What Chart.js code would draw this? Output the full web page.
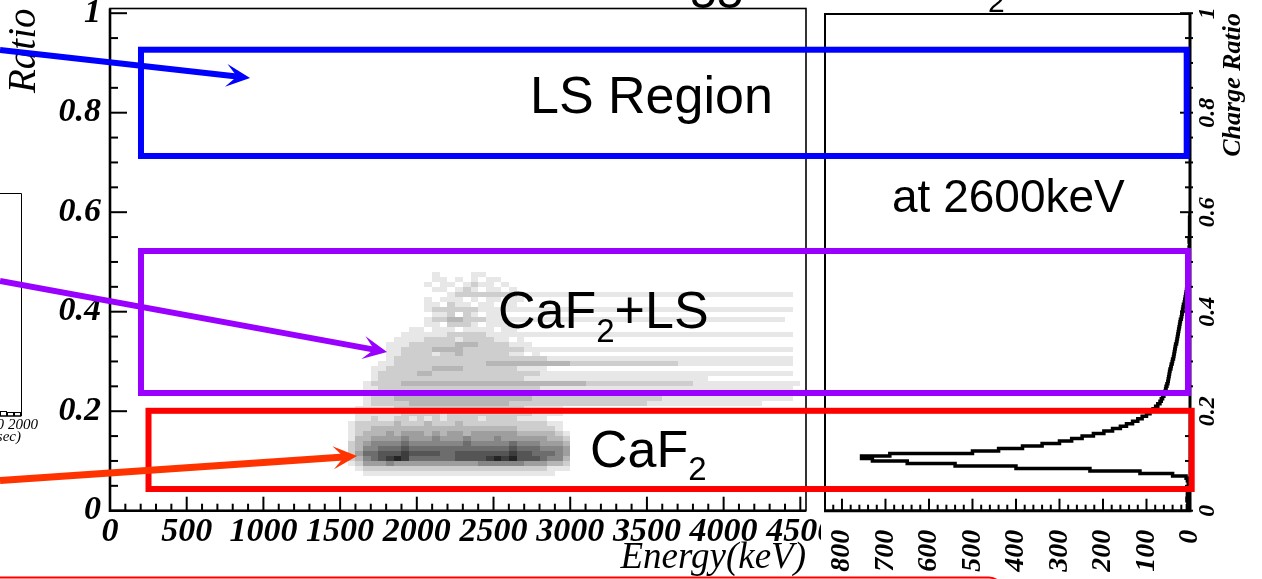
<!DOCTYPE html>
<html>
<head>
<meta charset="utf-8">
<script src="https://cdn.jsdelivr.net/npm/chart.js@4.4.0/dist/chart.umd.min.js"></script>
<style>
  html, body { margin: 0; padding: 0; background: #fff; }
  #wrap { position: relative; width: 1262px; height: 579px; overflow: hidden; background: #fff; }
  #wrap canvas { position: absolute; left: 0; top: 0; }
</style>
</head>
<body>
<div id="wrap">
  <canvas id="main" width="1262" height="579"></canvas>
  <canvas id="side" width="1262" height="579"></canvas>
</div>
<script>
// ---------------- data ----------------
const energyTicks = [0, 500, 1000, 1500, 2000, 2500, 3000, 3500, 4000, 4500];
const ratioTicks = [0, 0.2, 0.4, 0.6, 0.8, 1];
const countTicks = [0, 100, 200, 300, 400, 500, 600, 700, 800];

// Event density, energy vs charge ratio.
// One string per 0.01 ratio bin (lower edge in densityRatioRows), one character
// per 50 keV energy bin starting at 1500 keV: 0 = empty ... 9 = densest.
const densityEnergyStart = 1500;
const densityEnergyStep = 50;
const densityRatioStep = 0.01;
const densityRatioRows = [0.47, 0.46, 0.45, 0.44, 0.43, 0.42, 0.41, 0.40, 0.39, 0.38,
  0.37, 0.36, 0.35, 0.34, 0.33, 0.32, 0.31, 0.30, 0.29, 0.28, 0.27, 0.26, 0.25, 0.24,
  0.23, 0.22, 0.21, 0.20, 0.19, 0.18, 0.17, 0.16, 0.15, 0.14, 0.13, 0.12, 0.11, 0.10,
  0.09, 0.08, 0.07];
const densityRows = [
  "0000000000 0010000110 0000000000 0000000000 0000000000 0000000000",
  "0000000000 0011010101 1000000000 0000000000 0000000000 0000000000",
  "0000000000 0101101211 0100000000 0000000000 0000000000 0000000000",
  "0000000000 0011012101 1010000000 0000000000 0000000000 0000000000",
  "0000000000 0000122222 2221111111 1111111111 1111111111 1111111110",
  "0000000000 0101110101 1011000000 0000000000 0000000000 0000000000",
  "0000000000 0110211011 0110000000 0000000000 0000000000 0000000000",
  "0000000000 0122222211 1111111111 1111111111 1111111111 1111111110",
  "0000000000 0011202101 1000000000 0000000000 0000000000 0000000000",
  "0000000000 0122332221 1111111111 1111111111 1111111111 1111111100",
  "0000000000 0110222101 1100000000 0000000000 0000000000 0000000000",
  "0000000001 1011101111 0110000000 0000000000 0000000000 0000000000",
  "0000000011 1111222221 1111111111 1111111111 1111111111 1111111110",
  "0000000111 1222212222 1101000000 0000000000 0000000000 0000000000",
  "0000001112 2222233322 2211100000 0000000000 0000000000 0000000000",
  "0000001122 2233332222 2222111111 1111111111 1111111111 1111111110",
  "0000001122 2212232222 2211010000 0000000000 0000000000 0000000000",
  "0000001222 2222222222 2222222111 1111111111 1111111111 1111111110",
  "0000011222 2222222223 3333333333 2222222222 2222111111 1111111110",
  "0000112222 2233332222 2221111000 0000000000 0000000000 0000000000",
  "0000122222 3322222222 2222221111 1111111111 1111111111 1111111110",
  "0000122222 2222222222 2222111111 1111111111 1111111100 0000000000",
  "0001222233 3333333333 3333333333 3322222222 2222221111 1111111111",
  "0001122222 2222222222 2222221111 1111111111 1111111111 1111111110",
  "0001122222 2222222222 2222211111 1111111111 1111111111 1111111110",
  "0001222333 3333333333 3333322222 2222222222 2211111111 1111111110",
  "0001222223 3333333333 3322222222 2222222222 1111111111 1111100000",
  "0011111222 2222222222 2222111110 0000000000 0000000000 0000000000",
  "0011111122 2221222222 2222211110 0000000000 0000000000 0000000000",
  "0011211221 2121222212 2221111000 0000000000 0000000000 0000000000",
  "0122222322 2322232222 2222222110 0000000000 0000000000 0000000000",
  "0122333333 3333333333 3332222210 0000000000 0000000000 0000000000",
  "0123334344 4343443444 4443333321 0000000000 0000000000 0000000000",
  "0133444454 4454445444 5444444332 0000000000 0000000000 0000000000",
  "0234555565 5555556555 5565554443 0000000000 0000000000 0000000000",
  "0235566676 6666666666 6676665554 0000000000 0000000000 0000000000",
  "0246677787 7776677777 7787766654 0000000000 0000000000 0000000000",
  "0235678986 6666677778 9897776553 0000000000 0000000000 0000000000",
  "0124445444 4444444455 5555444332 0000000000 0000000000 0000000000",
  "0012222222 2222222222 2222222111 0000000000 0000000000 0000000000",
  "0001111111 1111111111 1111111100 0000000000 0000000000 0000000000"
];

// Charge-ratio distribution at 2600 keV: counts per 0.005 ratio bin from 0
const histRatioStart = 0;
const histRatioStep = 0.005;
const histCounts = [
  4, 6, 3, 5, 7, 4, 6, 3, 2, 2,
  3, 4, 6, 9, 40, 115, 230, 400, 540, 650,
  730, 755, 690, 500, 440, 385, 340, 300, 272, 248,
  222, 198, 178, 160, 146, 132, 120, 110, 100, 92,
  85, 79, 74, 69, 66, 63, 60, 58, 56, 55,
  53, 51, 50, 49, 48, 47, 46, 44, 43, 41,
  40, 38, 37, 36, 35, 34, 33, 31, 30, 29,
  28, 27, 26, 25, 24, 23, 22, 20, 19, 18,
  17, 16, 15, 13, 12, 11, 10, 9, 8, 7,
  6, 5, 5, 4, 4, 3, 3, 3, 2, 3,
  2, 2, 1, 2, 1, 2, 1, 1, 2, 1,
  1, 0, 1, 1, 0, 1, 0, 1, 0, 0
];

// ---------------- styling ----------------
const SERIF = "'Liberation Serif', 'Times New Roman', serif";
const SANS = "'Liberation Sans', Arial, sans-serif";

// plot frames on the page
const mainArea = { left: 110, right: 806, top: 8.5, bottom: 510.7 };
const sideArea = { left: 825, right: 1190, top: 13.2, bottom: 510.7 };

// Selection regions drawn across both panels
const regionBoxes = [
  { color: '#0000ff', energyFrom: 202, countTo: 7.6, ratioFrom: 0.713, ratioTo: 0.9266 },
  { color: '#9900ff', energyFrom: 202, countTo: 4.6, ratioFrom: 0.2366, ratioTo: 0.522 },
  { color: '#ff0000', energyFrom: 251, countTo: -3.9, ratioFrom: 0.0436, ratioTo: 0.2008 }
];
const pointerArrows = [
  { color: '#0000ff', width: 6, from: [-717, 0.926], to: [913, 0.8697] },
  { color: '#9900ff', width: 6, from: [-717, 0.4617], to: [1806, 0.319] },
  { color: '#ff3300', width: 7, from: [-717, 0.0607], to: [1611, 0.1099] }
];

Chart.defaults.color = '#000';

function drawText(ctx, parts, x, y) {
  // parts: [text, fontSize, baselineShift]
  let cx = x;
  parts.forEach(([t, size, dy]) => {
    ctx.font = size + 'px ' + SANS;
    ctx.fillText(t, cx, y + dy);
    cx += ctx.measureText(t).width;
  });
}

function drawArrow(ctx, x0, y0, x1, y1, color, lw) {
  const dx = x1 - x0, dy = y1 - y0, len = Math.hypot(dx, dy);
  const ux = dx / len, uy = dy / len, nx = -uy, ny = ux;
  const hl = 24, hw = 11.5, notch = 0.55 * hl;
  ctx.strokeStyle = color;
  ctx.lineWidth = lw;
  ctx.lineCap = 'butt';
  ctx.beginPath();
  ctx.moveTo(x0, y0);
  ctx.lineTo(x1 - ux * notch, y1 - uy * notch);
  ctx.stroke();
  ctx.fillStyle = color;
  ctx.beginPath();
  ctx.moveTo(x1, y1);
  ctx.lineTo(x1 - ux * hl + nx * hw, y1 - uy * hl + ny * hw);
  ctx.lineTo(x1 - ux * notch, y1 - uy * notch);
  ctx.lineTo(x1 - ux * hl - nx * hw, y1 - uy * hl - ny * hw);
  ctx.closePath();
  ctx.fill();
}

// nudge layout padding until the chart area sits on the wanted frame
function pinChartArea(chart, target) {
  const p = chart.config.options.layout.padding;
  for (let i = 0; i < 5; i++) {
    const a = chart.chartArea;
    const d = {
      top: target.top - a.top, bottom: a.bottom - target.bottom,
      left: target.left - a.left, right: a.right - target.right
    };
    if (Math.max(Math.abs(d.top), Math.abs(d.bottom), Math.abs(d.left), Math.abs(d.right)) < 0.02) break;
    p.top += d.top; p.bottom += d.bottom; p.left += d.left; p.right += d.right;
    chart.update();
  }
}

// ---------------- main panel: energy vs ratio ----------------
const densityPlugin = {
  id: 'density',
  beforeDatasetsDraw(chart) {
    const { ctx, scales: { x, y } } = chart;
    ctx.save();
    densityRows.forEach((row, j) => {
      const cells = row.replace(/\s+/g, '');
      const r0 = densityRatioRows[j];
      const yTop = Math.round(y.getPixelForValue(r0 + densityRatioStep));
      const yBot = Math.round(y.getPixelForValue(r0));
      for (let k = 0; k < cells.length; k++) {
        const d = +cells[k];
        if (!d) continue;
        const e0 = densityEnergyStart + k * densityEnergyStep;
        const xL = Math.round(x.getPixelForValue(e0));
        const xR = Math.round(x.getPixelForValue(e0 + densityEnergyStep));
        const g = Math.round(255 * (1 - d / 10.5));
        ctx.fillStyle = `rgb(${g},${g},${g})`;
        ctx.fillRect(xL, yTop, xR - xL, yBot - yTop);
      }
    });
    ctx.restore();
  }
};

const mainFramePlugin = {
  id: 'mainFrame',
  afterDraw(chart) {
    const { ctx, chartArea: a, scales: { x, y } } = chart;
    ctx.save();
    ctx.strokeStyle = '#000';
    ctx.lineWidth = 2;
    for (let i = 0; i <= 20; i++) {
      const py = y.getPixelForValue(i * 0.05);
      const len = i % 4 === 0 ? 17 : 8;
      ctx.beginPath(); ctx.moveTo(a.left, py); ctx.lineTo(a.left + len, py); ctx.stroke();
    }
    for (let i = 0; i <= 45; i++) {
      const px = x.getPixelForValue(i * 100);
      const len = i % 5 === 0 ? 14 : 7;
      ctx.beginPath(); ctx.moveTo(px, a.bottom); ctx.lineTo(px, a.bottom - len); ctx.stroke();
    }
    ctx.lineWidth = 1.6;
    ctx.strokeRect(a.left, a.top, a.right - a.left, a.bottom - a.top);
    ctx.lineWidth = 2.6;
    ctx.beginPath();
    ctx.moveTo(a.left, a.top); ctx.lineTo(a.left, a.bottom); ctx.lineTo(a.right, a.bottom);
    ctx.stroke();
    ctx.restore();
  }
};

const mainChart = new Chart(document.getElementById('main'), {
  type: 'scatter',
  data: { datasets: [] },
  options: {
    responsive: false,
    animation: false,
    events: [],
    layout: { autoPadding: false, padding: { left: 0, top: 8.5, right: 456, bottom: 0 } },
    plugins: { legend: { display: false }, tooltip: { enabled: false } },
    scales: {
      x: {
        type: 'linear', min: 0, max: 4537,
        grid: { display: false, drawTicks: false }, border: { display: false },
        afterBuildTicks: s => { s.ticks = energyTicks.map(v => ({ value: v })); },
        afterFit: s => { s.height = 68.3; },
        ticks: {
          autoSkip: false, maxRotation: 0, minRotation: 0, padding: 1, color: '#000',
          callback: v => String(v),
          font: { family: SERIF, size: 34, style: 'italic', weight: 'bold', lineHeight: 1.2 }
        },
        title: {
          display: true, text: 'Energy(keV)', align: 'end', color: '#000',
          font: { family: SERIF, size: 37, style: 'italic', weight: 'normal', lineHeight: 1 },
          padding: { top: 0, bottom: 2 }
        }
      },
      y: {
        type: 'linear', min: 0, max: 1.00945,
        // tick marks are drawn by mainFramePlugin; the hidden tick length only spaces the labels
        grid: { display: false, drawTicks: true, tickLength: 9 }, border: { display: false },
        afterBuildTicks: s => { s.ticks = ratioTicks.map(v => ({ value: v })); },
        afterFit: s => { s.width = 110; },
        ticks: {
          autoSkip: false, padding: 0, color: '#000',
          callback: v => String(v),
          font: { family: SERIF, size: 34, style: 'italic', weight: 'bold', lineHeight: 0.3 }
        },
        title: {
          display: true, text: 'Ratio', align: 'end', color: '#000',
          font: { family: SERIF, size: 39, style: 'italic', weight: 'normal', lineHeight: 1 },
          padding: { top: 5, bottom: 0 }
        }
      }
    }
  },
  plugins: [densityPlugin, mainFramePlugin]
});
pinChartArea(mainChart, mainArea);

// ---------------- side panel: ratio distribution ----------------
const histPoints = histCounts.map((c, i) => ({ x: c, y: histRatioStart + i * histRatioStep }));
histPoints.push({ x: histCounts[histCounts.length - 1], y: histRatioStart + histCounts.length * histRatioStep });

const sideCoverPlugin = {
  id: 'sideCover',
  beforeDraw(chart) {
    const { ctx } = chart;
    ctx.save();
    ctx.fillStyle = '#fff';
    ctx.fillRect(821, 0, 441, 579);
    ctx.restore();
  }
};

const sideFramePlugin = {
  id: 'sideFrame',
  afterDraw(chart) {
    const { ctx, chartArea: a, scales: { x, y } } = chart;
    ctx.save();
    ctx.strokeStyle = '#000';
    ctx.fillStyle = '#000';
    ctx.lineWidth = 2;
    for (let i = 0; i <= 41; i++) {
      const px = x.getPixelForValue(i * 20);
      if (px < a.left) break;
      const len = i % 5 === 0 ? 12 : 6;
      ctx.beginPath(); ctx.moveTo(px, a.bottom); ctx.lineTo(px, a.bottom - len); ctx.stroke();
    }
    for (let i = 0; i <= 20; i++) {
      const py = y.getPixelForValue(i * 0.05);
      const len = i % 4 === 0 ? 10 : 5;
      ctx.beginPath(); ctx.moveTo(a.right + 3, py); ctx.lineTo(a.right - len, py); ctx.stroke();
    }
    ctx.lineWidth = 2;
    ctx.beginPath();
    ctx.moveTo(a.left, a.bottom); ctx.lineTo(a.left, a.top + 0.8); ctx.lineTo(a.right, a.top + 0.8);
    ctx.stroke();
    ctx.lineWidth = 3;
    ctx.beginPath();
    ctx.moveTo(a.right, a.top); ctx.lineTo(a.right, a.bottom); ctx.lineTo(a.left - 1, a.bottom);
    ctx.stroke();
    // ratio labels on the right axis (rotated)
    ctx.font = 'italic bold 24px ' + SERIF;
    ctx.textAlign = 'center';
    ctx.textBaseline = 'middle';
    ratioTicks.forEach(v => {
      ctx.save();
      ctx.translate(a.right + 18, y.getPixelForValue(v));
      ctx.rotate(-Math.PI / 2);
      ctx.fillText(String(v), 0, 0);
      ctx.restore();
    });
    ctx.save();
    ctx.font = 'italic bold 26px ' + SERIF;
    ctx.textAlign = 'right';
    ctx.textBaseline = 'alphabetic';
    ctx.translate(1240, 13);
    ctx.rotate(-Math.PI / 2);
    ctx.fillText('Charge Ratio', 0, 0);
    ctx.restore();
    ctx.restore();
  }
};

const overlayPlugin = {
  id: 'overlay',
  afterDraw(chart) {
    const { ctx } = chart;
    const ex = mainChart.scales.x, ry = mainChart.scales.y, cx = chart.scales.x;
    ctx.save();

    // cut-off headings above the panels
    ctx.fillStyle = '#000';
    ctx.textBaseline = 'alphabetic';
    ctx.textAlign = 'left';
    ctx.font = '48px ' + SANS;
    ctx.fillText('55', 690, 8);
    ctx.font = '30px ' + SANS;
    ctx.fillText('2', 988, 12);

    // fragment of the neighbouring plot on the left edge
    ctx.strokeStyle = '#000';
    ctx.lineWidth = 1;
    ctx.beginPath();
    ctx.moveTo(0, 193.5); ctx.lineTo(21.5, 193.5); ctx.lineTo(21.5, 416);
    ctx.moveTo(0, 416); ctx.lineTo(21.5, 416);
    ctx.stroke();
    ctx.strokeRect(0.5, 411.5, 6, 4.5);
    ctx.strokeRect(7.5, 412.5, 6, 3.5);
    ctx.strokeRect(14.5, 412.5, 6, 3.5);
    ctx.font = 'italic 15px ' + SERIF;
    ctx.textAlign = 'right';
    ctx.fillText('1500', 4, 429);
    ctx.textAlign = 'left';
    ctx.fillText('2000', 8, 429);
    ctx.textAlign = 'right';
    ctx.fillText('Time(sec)', 21, 441);

    // selection regions
    ctx.lineJoin = 'miter';
    regionBoxes.forEach(b => {
      const left = ex.getPixelForValue(b.energyFrom);
      const right = cx.getPixelForValue(b.countTo);
      const top = ry.getPixelForValue(b.ratioTo);
      const bottom = ry.getPixelForValue(b.ratioFrom);
      ctx.strokeStyle = b.color;
      ctx.lineWidth = 6;
      ctx.strokeRect(left, top, right - left, bottom - top);
    });

    // pointers
    pointerArrows.forEach(p => {
      drawArrow(ctx,
        ex.getPixelForValue(p.from[0]), ry.getPixelForValue(p.from[1]),
        ex.getPixelForValue(p.to[0]), ry.getPixelForValue(p.to[1]),
        p.color, p.width);
    });

    // region labels
    ctx.fillStyle = '#000';
    ctx.textAlign = 'left';
    ctx.textBaseline = 'alphabetic';
    drawText(ctx, [['LS Region', 52, 0]], 530, 113);
    drawText(ctx, [['at 2600keV', 46, 0]], 892, 212);
    drawText(ctx, [['CaF', 52, 0], ['2', 33, 14], ['+LS', 52, 0]], 498, 328);
    drawText(ctx, [['CaF', 52, 0], ['2', 33, 13]], 590, 467);

    // outline of the caption box below
    ctx.strokeStyle = '#ff0000';
    ctx.lineWidth = 2;
    ctx.beginPath();
    ctx.roundRect(-20, 577.5, 1023, 60, 14);
    ctx.stroke();

    ctx.restore();
  }
};

const sideChart = new Chart(document.getElementById('side'), {
  type: 'scatter',
  data: {
    datasets: [{
      data: histPoints,
      showLine: true,
      stepped: 'after',
      borderColor: '#000',
      borderWidth: 3.5,
      pointRadius: 0,
      fill: false
    }]
  },
  options: {
    responsive: false,
    animation: false,
    events: [],
    layout: { autoPadding: false, padding: { left: 825, right: 72, top: 13.2, bottom: 0 } },
    plugins: { legend: { display: false }, tooltip: { enabled: false } },
    scales: {
      x: {
        type: 'linear', reverse: true, min: 0, max: 839,
        grid: { display: false, drawTicks: false }, border: { display: false },
        afterBuildTicks: s => { s.ticks = countTicks.map(v => ({ value: v })); },
        afterFit: s => { s.height = 68.3; },
        ticks: {
          autoSkip: false, minRotation: 90, maxRotation: 90, padding: 19, color: '#000',
          callback: v => String(v),
          font: { family: SERIF, size: 28, style: 'italic', weight: 'bold', lineHeight: 1 }
        }
      },
      y: { type: 'linear', display: false, min: 0, max: 1 }
    }
  },
  plugins: [sideCoverPlugin, sideFramePlugin, overlayPlugin]
});
pinChartArea(sideChart, sideArea);
</script>
</body>
</html>
